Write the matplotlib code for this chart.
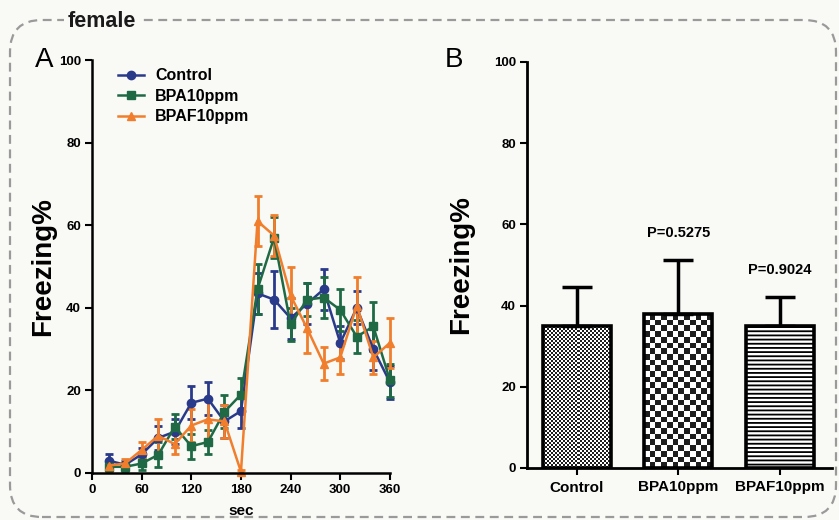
import numpy as np
import matplotlib
matplotlib.use("Agg")
import matplotlib.pyplot as plt
from matplotlib.colors import ListedColormap
from matplotlib.patches import FancyBboxPatch
from matplotlib.lines import Line2D

plt.rcParams['font.family'] = ['Liberation Sans', 'DejaVu Sans']
plt.rcParams['hatch.linewidth'] = 1.3

# ---------------- data ----------------
sec = [20, 40, 60, 80, 100, 120, 140, 160, 180, 200, 220, 240, 260, 280, 300, 320, 340, 360]
control = [3.0, 2.0, 4.5, 8.5, 10.0, 17.0, 18.0, 12.5, 15.0, 43.5, 42.0, 37.5, 41.0, 44.5, 31.5, 40.0, 30.0, 22.0]
control_err = [1.5, 1.0, 1.5, 3.0, 3.0, 4.0, 4.0, 4.0, 4.0, 5.0, 7.0, 5.0, 5.0, 5.0, 4.0, 4.0, 5.0, 4.0]
bpa = [1.5, 1.5, 2.3, 4.4, 11.2, 6.5, 7.5, 14.8, 19.0, 44.5, 57.0, 36.0, 42.0, 42.5, 39.5, 33.0, 35.5, 22.5]
bpa_err = [1.0, 1.0, 1.5, 3.0, 3.0, 3.0, 3.0, 4.0, 4.0, 6.0, 5.0, 4.0, 4.0, 5.0, 5.0, 4.0, 6.0, 4.0]
bpaf = [1.8, 2.3, 5.6, 9.0, 7.0, 11.5, 13.0, 12.5, 0.3, 61.0, 57.5, 43.0, 35.0, 26.5, 28.0, 40.5, 28.0, 31.5]
bpaf_err = [1.0, 1.0, 2.0, 4.0, 2.5, 4.0, 5.0, 4.0, 0.5, 6.0, 5.0, 7.0, 6.0, 4.0, 4.0, 7.0, 4.0, 6.0]

groups = ['Control', 'BPA10ppm', 'BPAF10ppm']
group_means = [34.9, 37.8, 35.0]
group_err = [9.7, 13.5, 7.2]
p_labels = ['', 'P=0.5275', 'P=0.9024']

series_names = ['Control', 'BPA10ppm', 'BPAF10ppm']
colors = ['#2a3a8a', '#1f6a45', '#f07e2c']
markers = ['o', 's', '^']

# ---------------- figure ----------------
bg = '#f9f9f6'
fig = plt.figure(figsize=(8.39, 5.2), dpi=100, facecolor=bg)

# dashed rounded frame
frame = FancyBboxPatch((0.10, 0.03), 8.26, 4.97,
                       boxstyle="round,pad=0,rounding_size=0.32",
                       transform=fig.dpi_scale_trans, fill=False,
                       edgecolor='#9a9a9a', linewidth=1.6,
                       linestyle=(0, (4, 2.5)))
fig.patches.append(frame)
fig.text(0.081, 0.958, 'female', fontsize=15.5, fontweight='bold',
         ha='left', va='center', color='#1a1a1a',
         bbox=dict(facecolor=bg, edgecolor='none', pad=3))

# ---------------- panel A ----------------
axA = fig.add_axes([0.1097, 0.0904, 0.355, 0.794])
axA.set_facecolor('none')
series = [(control, control_err), (bpa, bpa_err), (bpaf, bpaf_err)]
handles = []
for (vals, errs), name, c, m in zip(series, series_names, colors, markers):
    cont = axA.errorbar(sec, vals, yerr=errs, color=c, ecolor=c, marker=m,
                        markersize=6, linewidth=1.8, elinewidth=2.0, capsize=3,
                        capthick=2.0)
    for art in cont.get_children():
        art.set_clip_on(False)
    handles.append(Line2D([], [], color=c, marker=m, markersize=6,
                          linewidth=1.8, label=name))
axA.set_xlim(0, 360)
axA.set_ylim(0, 100)
axA.set_xticks([0, 60, 120, 180, 240, 300, 360])
axA.set_yticks([0, 20, 40, 60, 80, 100])
for s in ['top', 'right']:
    axA.spines[s].set_visible(False)
for s in ['left', 'bottom']:
    axA.spines[s].set_linewidth(1.8)
axA.tick_params(direction='out', length=5, width=1.5, labelsize=9.5, pad=3)
for lab in axA.get_xticklabels() + axA.get_yticklabels():
    lab.set_fontweight('bold')
axA.set_xlabel('sec', fontsize=11, fontweight='bold', labelpad=6)
axA.set_ylabel('Freezing%', fontsize=20, fontweight='bold', labelpad=2)
axA.legend(handles=handles, loc='upper left', bbox_to_anchor=(0.04, 1.015),
           frameon=False, prop=dict(size=11.5, weight='bold'),
           handlelength=1.6, handletextpad=0.7, labelspacing=0.35)
fig.text(0.042, 0.885, 'A', fontsize=20, ha='left', va='center')

# ---------------- panel B ----------------
axB = fig.add_axes([0.628, 0.1, 0.3635, 0.781])
axB.set_facecolor('none')
xpos = np.arange(len(groups))
bars = axB.bar(xpos, group_means, width=0.67, facecolor='none',
               edgecolor='black', linewidth=2.6, zorder=3)
axB.errorbar(xpos, group_means, yerr=[np.zeros(len(groups)), group_err],
             fmt='none', ecolor='black', elinewidth=2.5, capsize=11,
             capthick=2.5, zorder=2)
axB.set_xlim(-0.49, 2.51)
axB.set_ylim(0, 100)

# fill patterns clipped to the bars
cmap = ListedColormap(['white', '#1e1e1e'])
def pattern_fill(bar, cell_px):
    x0, y0 = bar.get_x(), bar.get_y()
    w, h = bar.get_width(), bar.get_height()
    p0 = axB.transData.transform((x0, y0))
    p1 = axB.transData.transform((x0 + w, y0 + h))
    nx = max(1, int(round((p1[0] - p0[0]) / cell_px)))
    ny = max(1, int(round((p1[1] - p0[1]) / cell_px)))
    arr = np.add.outer(np.arange(ny), np.arange(nx)) % 2
    im = axB.imshow(arr, cmap=cmap, extent=(x0, x0 + w, y0, y0 + h),
                    origin='lower', interpolation='nearest', aspect='auto',
                    zorder=1)
    im.set_clip_path(bar)

pattern_fill(bars[0], 2.0)
pattern_fill(bars[1], 5.6)
bars[2].set_hatch('----')
bars[2].set_facecolor('white')
axB.set_xlim(-0.49, 2.51)
axB.set_ylim(0, 100)

for x, m, e, p in zip(xpos, group_means, group_err, p_labels):
    if p:
        axB.text(x, m + e + 6.5, p, ha='center', va='center',
                 fontsize=10.5, fontweight='bold')

axB.set_xticks(xpos)
axB.set_xticklabels(groups)
axB.set_yticks([0, 20, 40, 60, 80, 100])
for s in ['top', 'right']:
    axB.spines[s].set_visible(False)
for s in ['left', 'bottom']:
    axB.spines[s].set_linewidth(2.0)
axB.tick_params(axis='y', direction='out', length=5, width=1.5, labelsize=9.5, pad=3)
axB.tick_params(axis='x', direction='out', length=5, width=1.5, labelsize=11, pad=4)
for lab in axB.get_xticklabels() + axB.get_yticklabels():
    lab.set_fontweight('bold')
axB.set_ylabel('Freezing%', fontsize=20, fontweight='bold', labelpad=14)
fig.text(0.530, 0.885, 'B', fontsize=20, ha='left', va='center')

fig.savefig('out.png', dpi=100, facecolor=bg)
